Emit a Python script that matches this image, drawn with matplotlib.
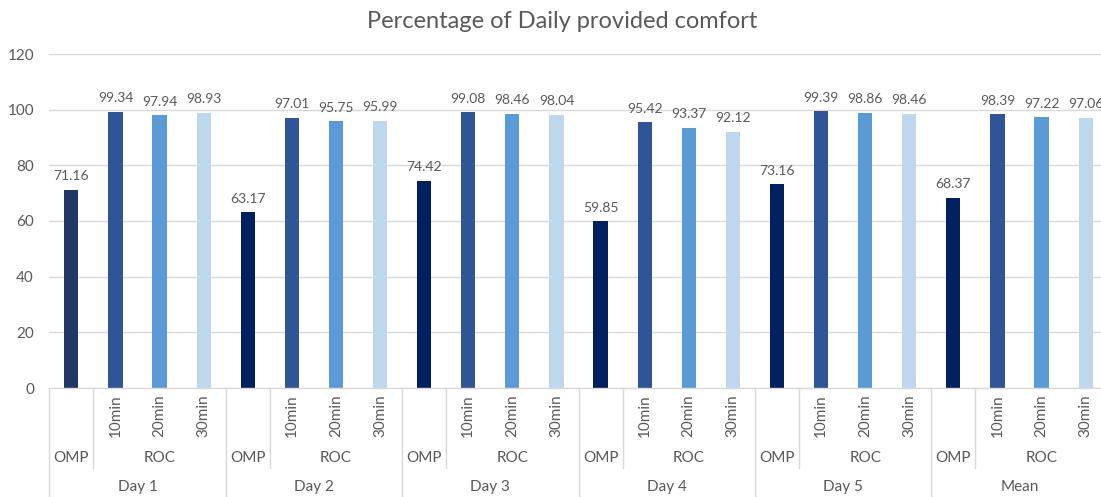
import matplotlib
matplotlib.use("Agg")
import matplotlib.pyplot as plt
import matplotlib.transforms as mtransforms

groups = ["Day 1", "Day 2", "Day 3", "Day 4", "Day 5", "Mean"]
series = ["OMP", "10min", "20min", "30min"]
omp = [71.16, 63.17, 74.42, 59.85, 73.16, 68.37]
roc10 = [99.34, 97.01, 99.08, 95.42, 99.39, 98.39]
roc20 = [97.94, 95.75, 98.46, 93.37, 98.86, 97.22]
roc30 = [98.93, 95.99, 98.04, 92.12, 98.46, 97.06]
yticks = [0, 20, 40, 60, 80, 100, 120]
title = "Percentage of Daily provided comfort"

values = [omp, roc10, roc20, roc30]
colors = ["#002060", "#2F5597", "#5B9BD5", "#BDD7EE"]
omp_first_color = "#203864"
text_color = "#595959"
grid_color = "#D9D9D9"

plt.rcParams['font.family'] = ['Lato', 'DejaVu Sans']

W, H = 1101, 497
fig = plt.figure(figsize=(W / 100, H / 100), dpi=100)
left_px, right_px, top_px, bot_px = 49.3, 1101, 54, 388
slot = 44.1
ax = fig.add_axes([left_px / W, 1 - bot_px / H, (right_px - left_px) / W, (bot_px - top_px) / H])
ax.set_xlim(0, (right_px - left_px) / slot)
ax.set_ylim(0, 120)

bw = 0.32
for k, vals in enumerate(values):
    xs = [g * 4 + k + 0.5 for g in range(len(groups))]
    cols = [colors[k]] * len(groups)
    if k == 0:
        cols[0] = omp_first_color
    ax.bar(xs, vals, width=bw, color=cols, zorder=3)
    for x, v in zip(xs, vals):
        ax.annotate(f"{v:.2f}", (x, v), xytext=(0, 5.5), textcoords="offset points",
                    ha="center", va="bottom", fontsize=10, color=text_color)

ax.set_yticks(yticks)
ax.set_yticklabels([str(t) for t in yticks], fontsize=11, color=text_color)
ax.tick_params(axis="y", length=0, pad=11)
ax.tick_params(axis="x", length=0, labelbottom=False)
ax.set_xticks([])
ax.yaxis.grid(True, color=grid_color, linewidth=1, zorder=0)
for s in ["top", "right", "left"]:
    ax.spines[s].set_visible(False)
ax.spines["bottom"].set_color(grid_color)
ax.spines["bottom"].set_linewidth(1)
ax.spines["bottom"].set_zorder(4)

trans = mtransforms.blended_transform_factory(ax.transData, fig.transFigure)
def fy(py):
    return 1 - py / H

for g in range(len(groups) + 1):
    ax.plot([g * 4, g * 4], [fy(388), fy(497)], color=grid_color, lw=1,
            transform=trans, clip_on=False)
for g in range(len(groups)):
    ax.plot([g * 4 + 1, g * 4 + 1], [fy(388), fy(468)], color=grid_color, lw=1,
            transform=trans, clip_on=False)
    for k in range(1, 4):
        ax.text(g * 4 + k + 0.5, fy(416), series[k], rotation=90, ha="center", va="center",
                fontsize=11, color=text_color, transform=trans, clip_on=False)
    ax.text(g * 4 + 0.5, fy(458), "OMP", ha="center", va="center",
            fontsize=11, color=text_color, transform=trans, clip_on=False)
    ax.text(g * 4 + 2.5, fy(458), "ROC", ha="center", va="center",
            fontsize=11, color=text_color, transform=trans, clip_on=False)
    ax.text(g * 4 + 2, fy(487), groups[g], ha="center", va="center",
            fontsize=11, color=text_color, transform=trans, clip_on=False)

fig.text(562 / W, fy(22), title, ha="center", va="center", fontsize=17, color=text_color)

fig.savefig("out.png", dpi=100)
